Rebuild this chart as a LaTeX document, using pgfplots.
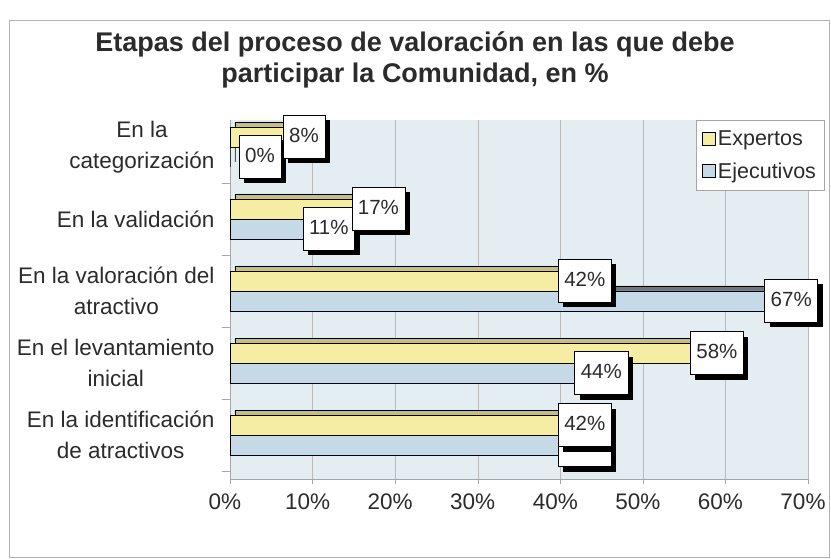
\documentclass[border=0pt]{standalone}
\usepackage{fontspec}
\setmainfont{Liberation Sans}
\usepackage{pgfplots}
\pgfplotsset{compat=1.18}
\usetikzlibrary{shadows}

\definecolor{expcol}{HTML}{F6EDA4}
\definecolor{ejecol}{HTML}{C5D9E6}
\definecolor{wallcol}{HTML}{E4EEF2}
\definecolor{txt}{HTML}{2B2B2B}

% y: 0 = abajo (identificacion) ... 4 = arriba (categorizacion)
\pgfplotstableread{
y exp eje
0 42 42
1 58 44
2 42 67
3 17 11
4 8 0
}\datos

\tikzset{lbl/.style={fill=white, draw=black, line width=0.6pt, anchor=center,
  xshift=8pt, inner xsep=6pt, inner ysep=12pt, text height=15pt, text depth=4pt,
  font=\fontsize{20.5}{24}\selectfont, text=txt,
  drop shadow={shadow xshift=5pt, shadow yshift=-5pt, fill=black, opacity=1}}}

\begin{document}
\begin{tikzpicture}
\path[use as bounding box] (-230pt,-80pt) rectangle (601pt,479pt);
\draw[gray!60] (-221pt,-78pt) rectangle (599pt,459pt);
\begin{axis}[
  at={(0pt,0pt)}, anchor=south west, scale only axis,
  width=578pt, height=359pt,
  xmin=0, xmax=70, ymin=-0.611, ymax=4.375,
  xbar, bar width=20pt,
  axis background/.style={fill=wallcol},
  axis x line*=bottom, axis y line*=left,
  axis line style={gray!70},
  xtick={0,10,...,70},
  xticklabel={\pgfmathprintnumber[assume math mode=true]{\tick}\%},
  xticklabel style={font=\fontsize{22.5}{26}\selectfont, text=txt, xshift=-5pt, yshift=-6pt},
  ytick={0,1,2,3,4},
  yticklabels={{En la identificación\\de atractivos},{En el levantamiento\\inicial},
    {En la valoración del\\atractivo},{En la validación},{En la\\categorización}},
  yticklabel style={font=\fontsize{22.5}{31}\selectfont, text=txt, align=center, xshift=-7pt},
  major y tick style={draw=none},
  minor ytick={-0.5,0.5,1.5,2.5,3.5},
  minor tick length=8pt, tick align=outside, major tick length=5pt,
  tick style={gray!70},
  xmajorgrids, major grid style={gray!55},
  clip=false,
  legend style={draw=gray!70, fill=white, at={(1.028,1)}, anchor=north east,
    font=\fontsize{21.5}{24}\selectfont, text=txt, cells={anchor=west},
    row sep=11pt, inner xsep=6pt, inner ysep=9pt},
  legend image code/.code={\draw[#1] (0pt,-6pt) rectangle (13pt,7pt);},
]
% caras de profundidad
\addplot[xbar, bar shift=10pt, xshift=5pt, yshift=5pt, fill=expcol!80!black, draw=black, line width=0.7pt, forget plot]
  table[x=exp, y=y]{\datos};
\addplot[xbar, bar shift=-10pt, xshift=5pt, yshift=5pt, fill=ejecol!55!black, draw=black, line width=0.7pt, forget plot]
  table[x=eje, y=y]{\datos};
% barras
\addplot[xbar, bar shift=10pt, fill=expcol, draw=black, line width=0.7pt]
  table[x=exp, y=y]{\datos};
\addlegendentry{Expertos}
\addplot[xbar, bar shift=-10pt, fill=ejecol, draw=black, line width=0.7pt]
  table[x=eje, y=y]{\datos};
\addlegendentry{Ejecutivos}
% etiquetas
\addplot[xbar, bar shift=-10pt, draw=none, fill=none, forget plot, point meta=x,
  visualization depends on={\thisrow{eje} \as \val},
  nodes near coords={\pgfmathprintnumber[assume math mode=true]{\pgfplotspointmeta}\%},
  every node near coord/.append style={lbl, xshift={(\val<1)*22pt}}]
  table[x=eje, y=y]{\datos};
\addplot[xbar, bar shift=10pt, draw=none, fill=none, forget plot, point meta=x,
  nodes near coords={\pgfmathprintnumber[assume math mode=true]{\pgfplotspointmeta}\%},
  every node near coord/.append style={lbl}]
  table[x=exp, y=y]{\datos};
\end{axis}
\node[font=\fontsize{27}{31}\bfseries, text=txt, align=center] at (185pt,419pt)
  {Etapas del proceso de valoración en las que debe\\participar la Comunidad, en \%};
\end{tikzpicture}
\end{document}
